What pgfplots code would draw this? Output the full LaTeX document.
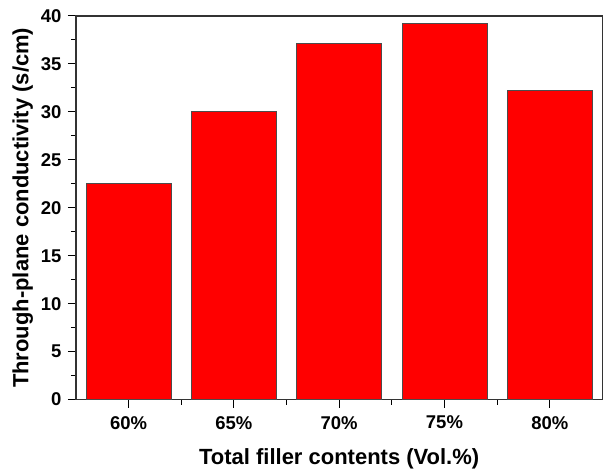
\documentclass[border=0pt]{standalone}
\usepackage{pgfplots}
\pgfplotsset{compat=1.18}
\usepackage{fontspec}
\setmainfont{Liberation Sans}
\begin{document}
\begin{tikzpicture}
\begin{axis}[
  scale only axis,
  width=527pt, height=384pt,
  xmin=-0.5, xmax=4.5,
  ymin=0, ymax=40,
  ytick={0,5,...,40},
  minor y tick num=1,
  xtick={0,1,2,3,4},
  xticklabels={60\%,65\%,70\%,75\%,80\%},
  minor xtick={0.5,1.5,2.5,3.5},
  tick align=outside,
  tick pos=left,
  major tick length=8pt,
  minor tick length=5pt,
  every tick/.style={black, line width=1pt},
  axis line style={line width=1.2pt, black!80},
  /pgf/number format/assume math mode=true,
  ticklabel style={font=\fontsize{18.5}{20}\selectfont\bfseries},
  xticklabel style={yshift=-5pt},
  yticklabel style={xshift=-3pt},
  label style={font=\fontsize{22}{26}\selectfont\bfseries},
  xlabel={Total filler contents (Vol.\%)},
  ylabel={Through-plane conductivity (s/cm)},
  xlabel style={yshift=-13pt},
  ylabel style={yshift=1pt},
]
\addplot[ybar, bar width=85pt, fill=red, draw=black!70, line width=0.8pt]
  coordinates {(0,22.5) (1,30.0) (2,37.1) (3,39.2) (4,32.2)};
\end{axis}
\path ([yshift=16pt]current axis.north west);
\path ([xshift=-76pt]current axis.south west);
\end{tikzpicture}
\end{document}
